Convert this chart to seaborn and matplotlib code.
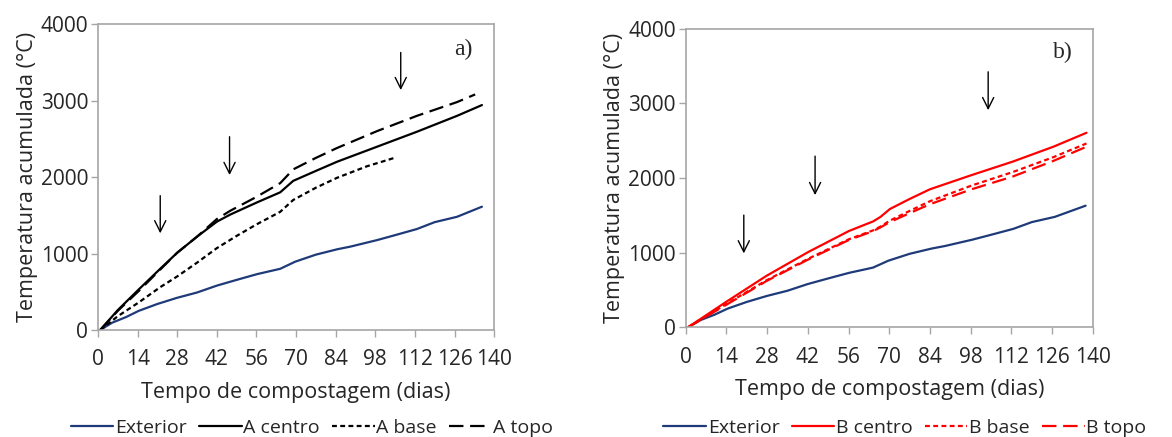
import numpy as np
import pandas as pd
import seaborn as sns
import matplotlib
matplotlib.use("Agg")
import matplotlib.pyplot as plt

# ---------------- data ----------------
ext_days = [0.8, 5, 10, 14.4, 21, 27.9, 35, 42, 49, 56.2, 64.4, 69.7, 77, 84.5, 89.2, 98.6, 105, 112.7, 119, 126.9, 135.7]
ext_vals = [0, 95, 170, 250, 340, 420, 490, 580, 655, 730, 800, 893, 985, 1055, 1090, 1175, 1240, 1320, 1410, 1480, 1612]

a_centro_days = [0.8, 7, 14.4, 22, 28, 35, 42, 46.8, 56, 64.4, 69, 77, 84.5, 98.6, 112.7, 126.9, 135.7]
a_centro_vals = [0, 260, 530, 800, 1010, 1220, 1416, 1510, 1665, 1800, 1950, 2080, 2200, 2396, 2592, 2800, 2941]

a_topo_days = [0.8, 7, 14.4, 22, 28, 35, 42, 46.8, 56, 64.4, 69, 77, 84.5, 98.6, 112.7, 126.9, 133.3]
a_topo_vals = [0, 250, 510, 790, 1010, 1220, 1450, 1560, 1740, 1920, 2100, 2250, 2380, 2600, 2800, 2980, 3080]

a_base_days = [0.8, 7, 14.4, 22, 28, 35, 42, 49, 56, 64.4, 69, 77, 84.5, 95, 105]
a_base_vals = [0, 180, 360, 560, 700, 880, 1070, 1230, 1380, 1545, 1700, 1860, 1990, 2140, 2253]

ext_b_days = [0.8, 5, 10, 14.4, 21, 27.9, 35, 42, 49, 56.2, 64.4, 69.7, 77, 84.5, 89.2, 98.6, 105, 112.7, 119, 126.9, 137.5]
ext_b_vals = [0, 95, 170, 250, 340, 420, 490, 580, 655, 730, 800, 893, 985, 1055, 1090, 1175, 1240, 1320, 1410, 1480, 1630]

b_days = [0.8, 13.9, 27.8, 42.2, 56.1, 64.5, 67, 70.2, 77, 84, 98.3, 112.4, 126.4, 137.8]
b_centro_vals = [0, 340, 690, 1010, 1290, 1420, 1480, 1585, 1720, 1850, 2040, 2220, 2420, 2607]
b_base_vals = [0, 310, 630, 920, 1180, 1300, 1350, 1430, 1560, 1690, 1900, 2080, 2280, 2464]
b_topo_vals = [0, 300, 620, 910, 1170, 1290, 1340, 1410, 1530, 1650, 1850, 2020, 2230, 2420]

# arrows: (day, y_start, y_end)
arrows_a = [(22, 1756, 1264), (46.5, 2527, 2026), (107, 3629, 3137)]
arrows_b = [(20, 1504, 991), (44.5, 2294, 1772), (104, 3424, 2910)]

x_ticks = [0, 14, 28, 42, 56, 70, 84, 98, 112, 126, 140]
y_ticks = [0, 1000, 2000, 3000, 4000]

# ---------------- style ----------------
sns.set_theme(style="white")
plt.rcParams['font.family'] = ['Open Sans', 'DejaVu Sans']

NAVY = "#1F3A78"
RED = "#FF0000"
SPINE = "#A6A6A6"
LW = 1.6

fig = plt.figure(figsize=(11.72, 4.37), dpi=100)
axA = fig.add_axes([0.0836, 0.2449, 0.338, 0.700])
axB = fig.add_axes([0.585, 0.251, 0.3475, 0.683])


def draw(ax, series, arrows, label, label_pos, legend_x):
    for (d, v, c, ls, name) in series:
        sns.lineplot(x=d, y=v, ax=ax, color=c, linewidth=LW, linestyle=ls,
                     label=name, legend=False, estimator=None, sort=False)
    for (d, y0, y1) in arrows:
        ax.annotate("", xy=(d, y1), xytext=(d, y0),
                    arrowprops=dict(arrowstyle="->", color="black", lw=1.0,
                                    mutation_scale=20, shrinkA=0, shrinkB=0))
    ax.text(label_pos[0], label_pos[1], label, family="Liberation Serif",
            fontsize=17, ha="center", va="center")
    ax.set_xlim(0, 140)
    ax.set_ylim(0, 4000)
    ax.set_xticks(x_ticks)
    ax.set_yticks(y_ticks)
    ax.tick_params(axis="x", labelsize=15, length=5, width=1,
                   color=SPINE, direction="out", bottom=True, pad=9)
    ax.tick_params(axis="y", labelsize=15, length=5, width=1,
                   color=SPINE, direction="out", left=True, pad=2)
    for s in ax.spines.values():
        s.set_color(SPINE)
        s.set_linewidth(1.2)
    ax.set_xlabel("Tempo de compostagem (dias)", fontsize=15.5, labelpad=8)
    ax.set_ylabel("Temperatura acumulada (°C)", fontsize=15.5, labelpad=2)
    h, l = ax.get_legend_handles_labels()
    ax.legend(h, l, loc="lower center", bbox_to_anchor=(legend_x, 0.0),
              bbox_transform=fig.transFigure, ncol=4,
              frameon=False, fontsize=14, handlelength=2.2, handletextpad=0.1,
              columnspacing=0.6, borderaxespad=0, borderpad=0)


draw(axA,
     [(ext_days, ext_vals, NAVY, "-", "Exterior"),
      (a_centro_days, a_centro_vals, "black", "-", "A centro"),
      (a_base_days, a_base_vals, "black", (0, (2.2, 1.5)), "A base"),
      (a_topo_days, a_topo_vals, "black", (0, (6.5, 3)), "A topo")],
     arrows_a, "a)", (129, 3673), 312 / 1172)

draw(axB,
     [(ext_b_days, ext_b_vals, NAVY, "-", "Exterior"),
      (b_days, b_centro_vals, RED, "-", "B centro"),
      (b_days, b_base_vals, RED, (0, (2.2, 1.5)), "B base"),
      (b_days, b_topo_vals, RED, (0, (6.5, 3)), "B topo")],
     arrows_b, "b)", (129.7, 3688), 905 / 1172)

fig.savefig("out.png", dpi=100)
